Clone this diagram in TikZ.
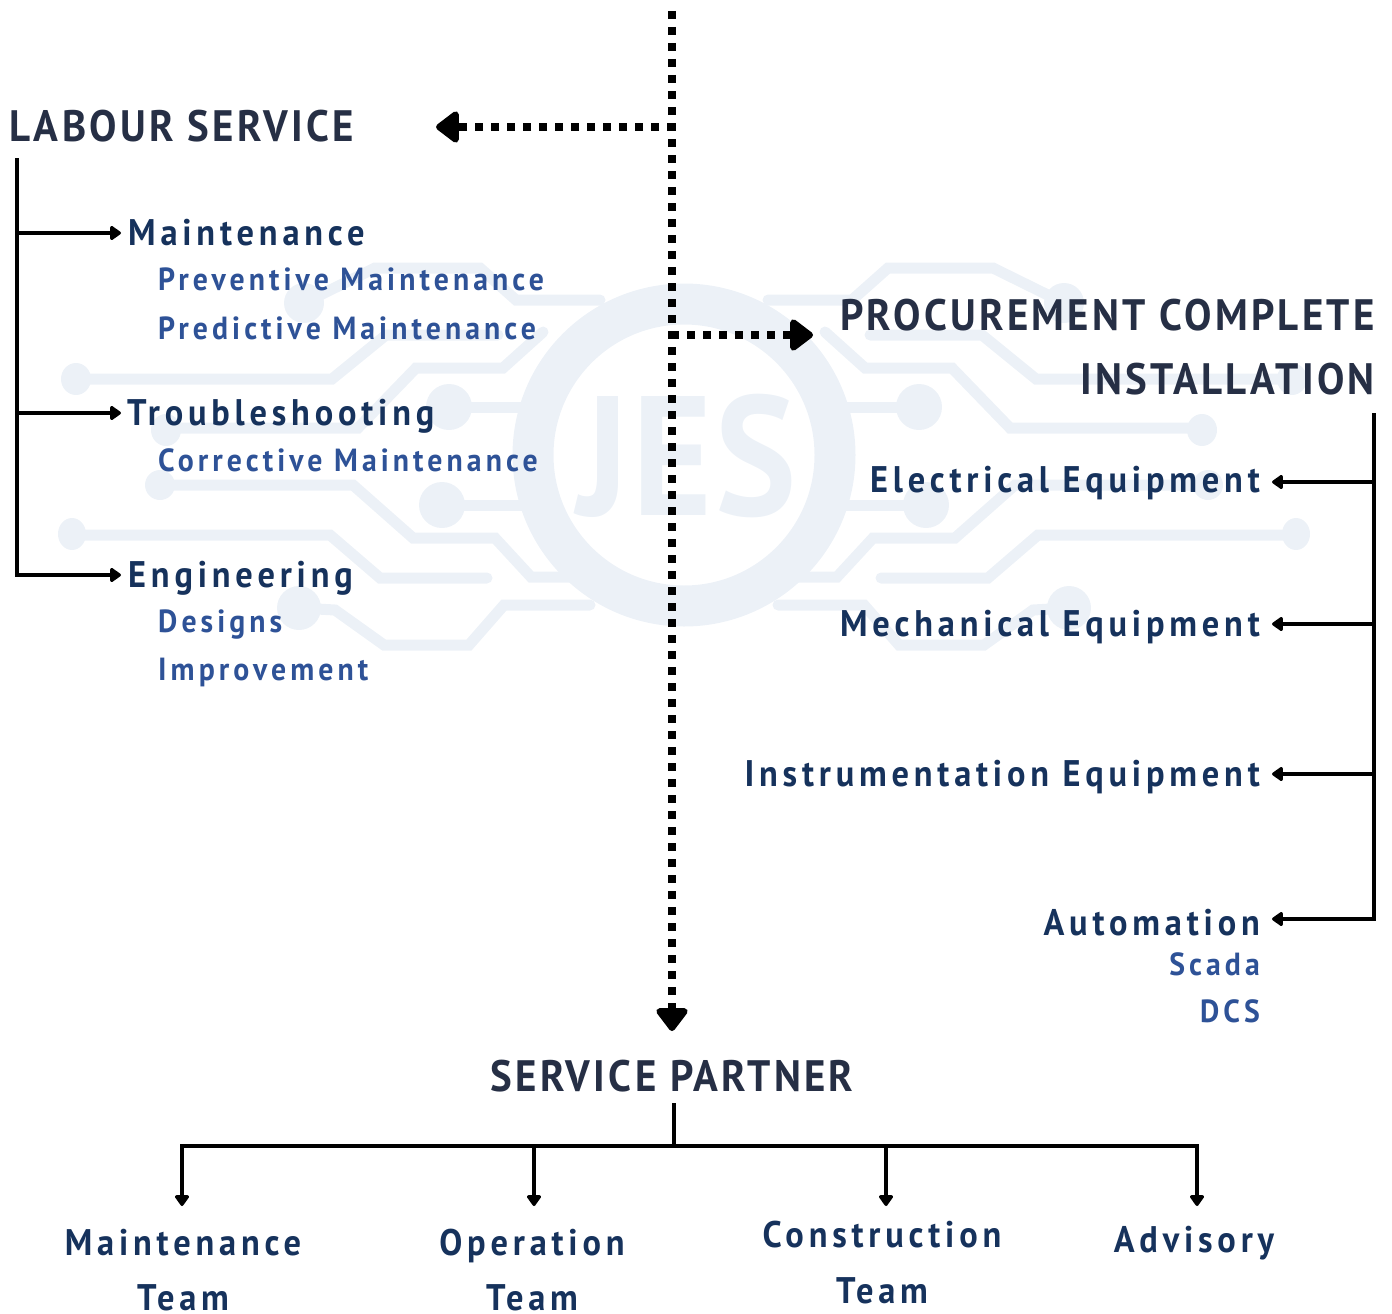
\documentclass[tikz,border=0pt]{standalone}
\usepackage{fontspec}
\usetikzlibrary{arrows.meta}
\newfontfamily\hdfont[FakeStretch=0.93,LetterSpace=7.5]{PT Sans}
\newfontfamily\itfont[FakeStretch=0.93,LetterSpace=13,WordSpace=1.0]{PT Sans}
\newfontfamily\sbfont[FakeStretch=0.93,LetterSpace=12.7]{PT Sans}
\newfontfamily\wmfont[FakeStretch=0.9,LetterSpace=2]{PT Sans}
\definecolor{wm}{HTML}{ECF1F7}
\definecolor{hdc}{HTML}{262F45}
\definecolor{itc}{HTML}{16325C}
\definecolor{sbc}{HTML}{2E5297}
\newcommand{\wmhalf}{%
  \draw[wmline] (76,379) -- (332,379) -- (386,335) -- (498,335);
  \draw[wmline] (166,428) -- (358,428) -- (416,368) -- (503,368) -- (543,332);
  \draw[wmline] (160,485) -- (353,485) -- (413,538) -- (495,538) -- (531,577) -- (570,577);
  \draw[wmline] (70,535) -- (330,535) -- (380,578) -- (487,578);
  \draw[wmline] (304,303) -- (375,268) -- (480,268) -- (516,300) -- (600,300);
  \draw[wmline] (299,608) -- (335,610) -- (384,645) -- (469,645) -- (504,605) -- (590,605);
  \draw[wmline] (449,407) -- (553,407);
  \draw[wmline] (442,505) -- (553,505);
  \fill[wm] (76,379) circle[x radius=15,y radius=16];
  \fill[wm] (166,430) circle[x radius=15,y radius=16];
  \fill[wm] (160,485) circle[x radius=15,y radius=15];
  \fill[wm] (72,534) circle[x radius=14,y radius=16];
  \fill[wm] (304,303) circle[radius=20];
  \fill[wm] (299,608) circle[radius=22];
  \fill[wm] (449,407) circle[radius=23];
  \fill[wm] (442,505) circle[radius=23];
}
\tikzset{
  x=1pt,y=-1pt,
  wmline/.style={wm,line width=11pt,line join=miter,line cap=round},
  heading/.style={inner sep=0pt,text=hdc,font=\hdfont\bfseries\fontsize{44}{44}\selectfont},
  item/.style={inner sep=0pt,text=itc,font=\itfont\bfseries\fontsize{37}{37}\selectfont},
  subitem/.style={inner sep=0pt,text=sbc,font=\sbfont\bfseries\fontsize{32}{32}\selectfont},
  dots/.style={line width=7.6pt,dash pattern=on 8pt off 8pt,-{Triangle[length=25pt,width=36pt,round]}},
  solid line/.style={line width=3.5pt,black},
  solid arrow/.style={line width=3.5pt,black,-{Triangle[length=12pt,width=16pt,round]}},
}
\begin{document}
\begin{tikzpicture}
\useasboundingbox (0,0) rectangle (1392,1314);
% watermark
\wmhalf
\begin{scope}[xshift=1368pt,xscale=-1]
\wmhalf
\end{scope}
\draw[wm,line width=41pt] (684,455) circle[radius=151];
\node[text=wm,inner sep=0pt,anchor=base,font=\wmfont\bfseries\fontsize{170}{170}\selectfont] (jes) at (687,515) {JES};
% texts
\node[heading,anchor=base west] (labour) at (9,141) {LABOUR SERVICE};
\node[item,anchor=base west] (maint) at (128,245) {Maintenance};
\node[subitem,anchor=base west] (prev) at (158,290) {Preventive Maintenance};
\node[subitem,anchor=base west] (pred) at (158,339) {Predictive Maintenance};
\node[item,anchor=base west] (trouble) at (127,425) {Troubleshooting};
\node[subitem,anchor=base west] (corr) at (158,471) {Corrective Maintenance};
\node[item,anchor=base west] (eng) at (128,587) {Engineering};
\node[subitem,anchor=base west] (des) at (158,632) {Designs};
\node[subitem,anchor=base west] (imp) at (158,680) {Improvement};
\node[heading,anchor=base east] (proc) at (1375,330) {PROCUREMENT COMPLETE};
\node[heading,anchor=base east] (inst) at (1375,394) {INSTALLATION};
\node[item,anchor=base east] (elec) at (1260,492) {Electrical Equipment};
\node[item,anchor=base east] (mech) at (1260,636) {Mechanical Equipment};
\node[item,anchor=base east] (instr) at (1260,786) {Instrumentation Equipment};
\node[item,anchor=base east] (auto) at (1260,935) {Automation};
\node[subitem,anchor=base east] (scada) at (1260,975) {Scada};
\node[subitem,anchor=base east] (dcs) at (1260,1022) {DCS};
\node[heading,anchor=base] (partner) at (672,1091) {SERVICE PARTNER};
\node[item,anchor=base] (mt) at (183,1255) {Maintenance};
\node[item,anchor=base] (mtb) at (183,1310) {Team};
\node[item,anchor=base] (ot) at (532,1255) {Operation};
\node[item,anchor=base] (otb) at (532,1310) {Team};
\node[item,anchor=base] (ct) at (882,1247) {Construction};
\node[item,anchor=base] (ctb) at (882,1303) {Team};
\node[item,anchor=base] (adv) at (1194,1252) {Advisory};
% dotted connectors
\coordinate (top) at (672,11);
\coordinate (dl) at (675,127);
\coordinate (dr) at (671,335);
\coordinate (dlt) at (436,127);
\coordinate (drt) at (813,335);
\coordinate (ddt) at (672,1031);
\draw[dots] (top) -- (ddt);
\draw[dots] (dl) -- (dlt);
\draw[dots] (dr) -- (drt);
% left tree
\coordinate (lt) at (17,158);
\coordinate (l1) at (17,233);
\coordinate (l2) at (17,413);
\coordinate (l3) at (17,575);
\draw[solid line] (lt) -- (l3);
\draw[solid arrow] ([xshift=-1.75pt]l1) -- (121,233);
\draw[solid arrow] ([xshift=-1.75pt]l2) -- (121,413);
\draw[solid arrow] ([xshift=-1.75pt]l3) -- (121,575);
% right tree
\coordinate (rt) at (1374,413);
\coordinate (r1) at (1374,482);
\coordinate (r2) at (1374,624);
\coordinate (r3) at (1374,774);
\coordinate (r4) at (1374,919);
\draw[solid line] (rt) -- (r4);
\draw[solid arrow] ([xshift=1.75pt]r1) -- (1272,482);
\draw[solid arrow] ([xshift=1.75pt]r2) -- (1272,624);
\draw[solid arrow] ([xshift=1.75pt]r3) -- (1272,774);
\draw[solid arrow] ([xshift=1.75pt]r4) -- (1272,919);
% bottom tree
\coordinate (b0) at (674,1103);
\coordinate (bj) at (674,1146);
\coordinate (b1) at (182,1146);
\coordinate (b2) at (534,1146);
\coordinate (b3) at (886,1146);
\coordinate (b4) at (1197,1146);
\draw[solid line] (b0) -- (bj);
\draw[solid line] ([xshift=-1.75pt]b1) -- ([xshift=1.75pt]b4);
\draw[solid arrow] (b1) -- (182,1206);
\draw[solid arrow] (b2) -- (534,1206);
\draw[solid arrow] (b3) -- (886,1206);
\draw[solid arrow] (b4) -- (1197,1206);
\end{tikzpicture}
\end{document}
